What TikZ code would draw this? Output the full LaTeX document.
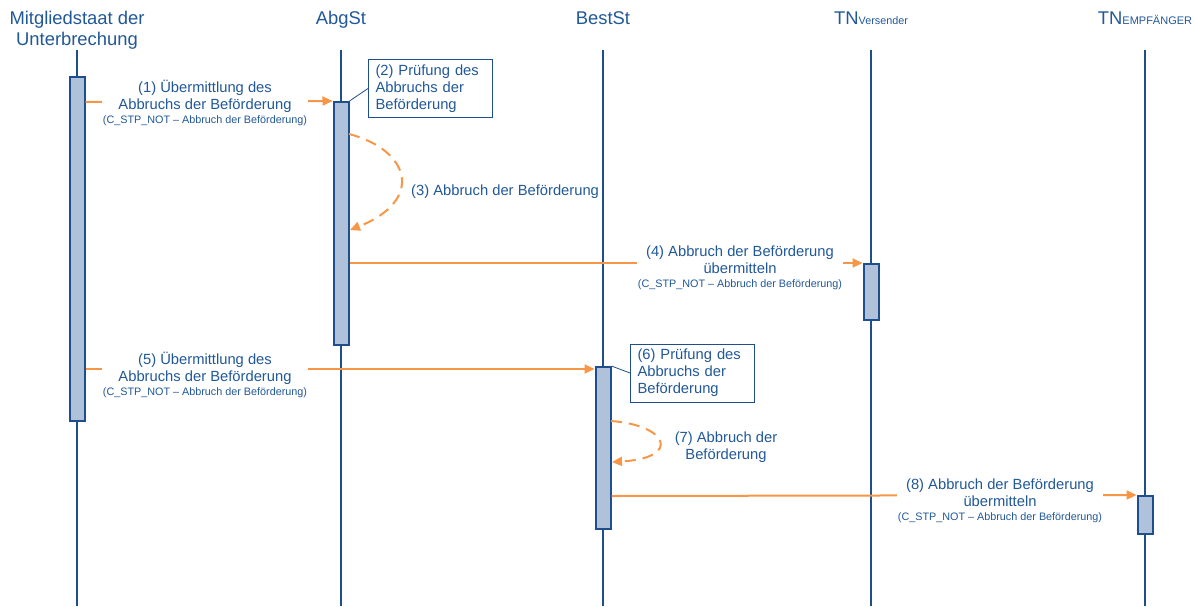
\documentclass[tikz,border=0pt]{standalone}
\usepackage{fontspec}
\setmainfont{Liberation Sans}
\usetikzlibrary{arrows.meta}
\definecolor{lineblue}{RGB}{31,78,140}
\definecolor{textblue}{RGB}{33,88,152}
\definecolor{actfill}{RGB}{176,194,218}
\definecolor{msgorange}{RGB}{247,150,70}
\newcommand{\hdfont}{\fontsize{18.4}{21}\selectfont}
\newcommand{\lbfont}{\fontsize{14.75}{17}\selectfont}
\newcommand{\smfont}{\fontsize{10.8}{13}\selectfont}
\begin{document}
\begin{tikzpicture}[x=1pt,y=-1pt,
  head/.style={text=textblue,font=\hdfont,align=center,inner sep=0pt},
  life/.style={draw=lineblue,line width=2pt},
  act/.style={draw=lineblue,fill=actfill,line width=2pt,minimum width=15pt,inner sep=0pt},
  msg/.style={draw=msgorange,line width=2pt,-{Triangle[length=10pt,width=9pt]}},
  selfmsg/.style={msg,dash pattern=on 11pt off 7pt},
  lbl/.style={text=textblue,font=\lbfont,align=center,fill=white,inner xsep=1pt,inner ysep=1pt},
  note/.style={draw=lineblue,line width=1pt,fill=white,text=textblue,font=\lbfont,align=left,
    minimum width=124pt,minimum height=58pt,text width=110pt,inner xsep=7pt,anchor=north west},
  conn/.style={draw=lineblue,line width=0.8pt}]
\useasboundingbox (0,0) rectangle (1199,606);
% headers
\node[head,anchor=base] (h1) at (77,45) {Mitgliedstaat der\\Unterbrechung};
\node[head,anchor=base] (h2) at (341,24) {AbgSt};
\node[head,anchor=base] (h3) at (603,24) {BestSt};
\node[head,anchor=base] (h4) at (871,24) {TN{\smfont Versender}};
\node[head,anchor=base] (h5) at (1145,24) {TN{\fontsize{11}{12}\selectfont EMPFÄNGER}};
% lifelines
\foreach \i/\x in {1/77,2/341,3/603,4/871,5/1145}{
  \coordinate (t\i) at (\x,50);
  \coordinate (b\i) at (\x,606);
  \draw[life] (t\i) -- (b\i);
}
% activations
\node[act,minimum height=344pt] (a1) at (77,249) {};
\node[act,minimum height=243pt] (a2) at (341,223.5) {};
\node[act,minimum height=56pt] (a3) at (871,292) {};
\node[act,minimum height=162pt] (a4) at (603,448) {};
\node[act,minimum height=38pt] (a5) at (1145,515) {};
% levels
\coordinate (y1) at (0,102);
\coordinate (y4) at (0,263);
\coordinate (y5) at (0,369);
\coordinate (y8) at (0,496);
% messages
\draw[msg] (a1.east |- y1) -- (a2.north west);
\draw[msg] (a2.east |- y4) -- (a3.north west);
\draw[msg] (a1.east |- y5) -- (a4.west |- y5);
\draw[msg] (a4.east |- y8) -- (a5.north west);
% self messages
\coordinate (s3a) at (349,134);
\coordinate (s3b) at (350,230);
\draw[selfmsg] (s3a) .. controls (410,150) and (425,200) .. (s3b);
\coordinate (s7a) at (611,421);
\coordinate (s7b) at (612,462);
\draw[selfmsg] (s7a) .. controls (668,425) and (682,458) .. (s7b);
% labels
\node[lbl] (l1) at (205,103) {(1) Übermittlung des\\Abbruchs der Beförderung\\[-3pt]{\smfont (C\_STP\_NOT – Abbruch der Beförderung)}};
\node[lbl] (l4) at (740,268) {(4) Abbruch der Beförderung\\übermitteln\\[-3pt]{\smfont (C\_STP\_NOT – Abbruch der Beförderung)}};
\node[lbl] (l5) at (205,375) {(5) Übermittlung des\\Abbruchs der Beförderung\\[-3pt]{\smfont (C\_STP\_NOT – Abbruch der Beförderung)}};
\node[lbl] (l8) at (1000,501) {(8) Abbruch der Beförderung\\übermitteln\\[-3pt]{\smfont (C\_STP\_NOT – Abbruch der Beförderung)}};
\node[lbl,fill=none,anchor=west,inner xsep=0pt] (l3) at (411,192) {(3) Abbruch der Beförderung};
\node[lbl,fill=none] (l7) at (726,447) {(7) Abbruch der\\Beförderung};
% notes
\node[note] (n2) at (368,59) {(2) Prüfung des\\Abbruchs der\\Beförderung};
\node[note] (n6) at (630,343.5) {(6) Prüfung des\\Abbruchs der\\Beförderung};
\draw[conn] (n2.west) -- (a2.north east);
\draw[conn] (n6.west) -- (a4.north east);
\end{tikzpicture}
\end{document}
